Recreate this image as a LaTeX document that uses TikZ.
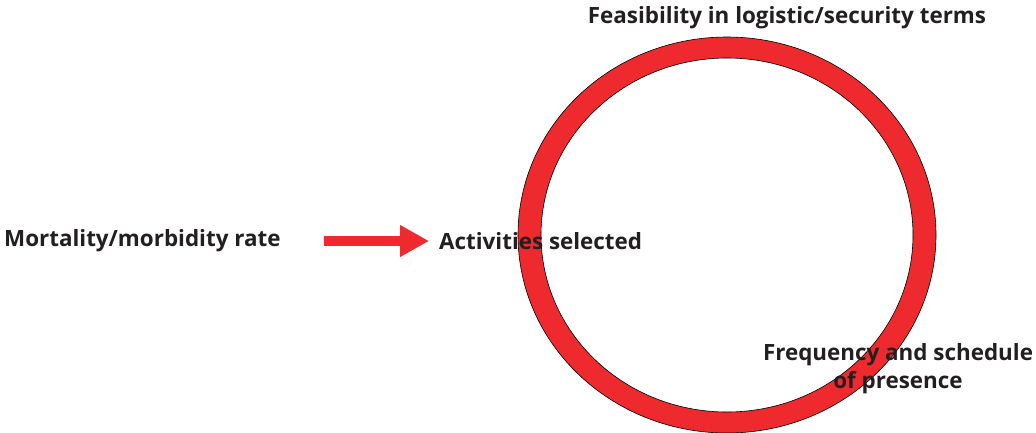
\documentclass[tikz,border=0pt]{standalone}
\usepackage{fontspec}
\setmainfont{Open Sans}
\usetikzlibrary{arrows.meta,positioning}
\definecolor{ringred}{RGB}{238,42,47}
\definecolor{textgray}{RGB}{35,31,32}

\begin{document}
\begin{tikzpicture}[
    x=1pt,y=-1pt,
    factor node/.style={
      font=\bfseries\fontsize{22.4}{28}\selectfont,
      text=textgray,
      inner sep=0pt,
      align=center,
    },
    flow arrow/.style={
      draw=ringred,
      line width=10pt,
      -{Triangle[length=29pt,width=30pt]},
    },
  ]
  \useasboundingbox (0,0) rectangle (1036,432);
  % the ring, cut by the lower edge
  \begin{scope}
    \clip (0,0) rectangle (1036,432);
    \path[fill=ringred, draw=black, line width=0.6pt, even odd rule]
      (727,235) ellipse [x radius=209, y radius=198]
      (727,235) ellipse [x radius=186, y radius=177];
  \end{scope}
  \node[factor node, anchor=west] (mortality)   at (4,241)   {Mortality/morbidity rate};
  \node[factor node, anchor=west] (activities)  at (439,241) {Activities selected};
  \node[factor node]              (feasibility) at (787,18)  {Feasibility in logistic/security terms};
  \node[factor node]              (frequency)   at (898,369) {Frequency and schedule\\of presence};
  \draw[flow arrow, shorten <=43pt, shorten >=10pt] (mortality) -- (activities);
\end{tikzpicture}
\end{document}
